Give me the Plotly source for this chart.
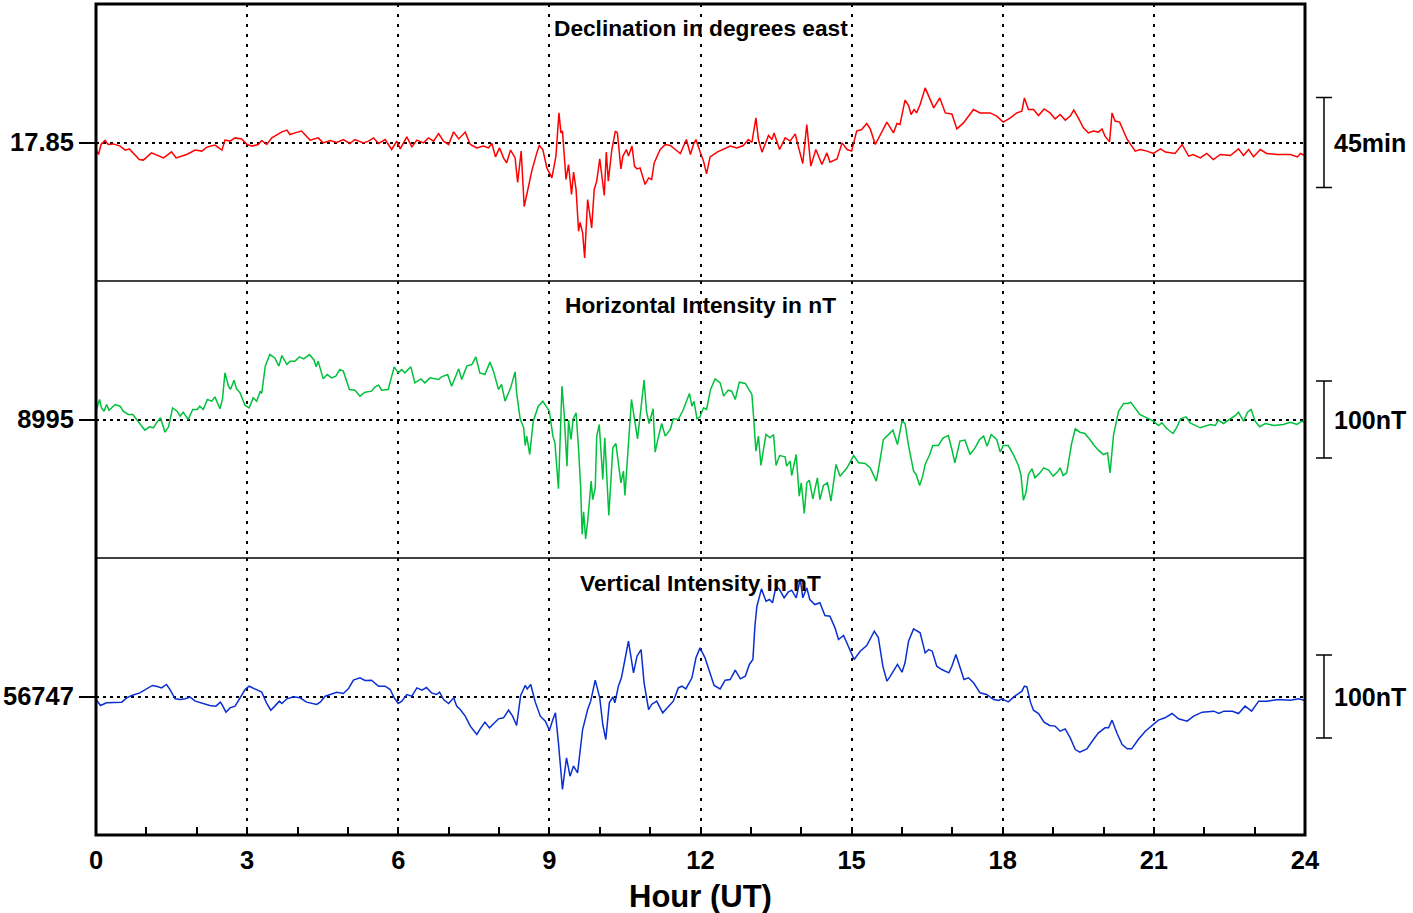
import plotly.graph_objects as go
from plotly.subplots import make_subplots

# Baselines (left-axis labels)
DEC_BASE = 17.85      # degrees east
H_BASE = 8995         # nT
Z_BASE = 56747        # nT

# Declination: (hour UT, offset from baseline in arc-minutes)
dec_points = [
    (0.00, -3.5), (0.05, -6.0), (0.10, -1.0), (0.18, 1.0), (0.24, -1.0), (0.34, -0.7), (0.48, -1.8),
    (0.58, -3.8), (0.66, -3.2), (0.74, -5.2), (0.86, -8.5), (0.94, -8.8), (1.10, -5.2), (1.34, -7.7),
    (1.50, -4.7), (1.59, -7.7), (1.80, -6.0), (1.97, -3.8), (2.10, -4.3), (2.20, -2.3), (2.36, -1.3),
    (2.50, -3.8), (2.56, 1.2), (2.66, 0.7), (2.76, 2.3), (2.89, 1.8), (3.00, -1.0), (3.10, -1.8),
    (3.22, -1.0), (3.29, 1.0), (3.39, -1.0), (3.49, 2.3), (3.59, 4.0), (3.69, 5.3), (3.79, 6.2),
    (3.85, 4.0), (3.95, 4.8), (4.08, 5.7), (4.25, 1.2), (4.41, 2.3), (4.51, -0.2), (4.65, 1.0),
    (4.78, 0.0), (4.91, 1.5), (5.04, -0.5), (5.14, 1.5), (5.31, -0.2), (5.41, 0.7), (5.51, 2.3),
    (5.61, -0.5), (5.74, 1.5), (5.87, -3.5), (5.97, 0.7), (6.04, -3.2), (6.17, 2.8), (6.27, -2.2),
    (6.37, 1.2), (6.50, -0.2), (6.60, 2.3), (6.70, 0.7), (6.80, 4.5), (6.90, 0.7), (7.00, -1.0),
    (7.10, 5.3), (7.20, 1.8), (7.33, 5.2), (7.43, -1.0), (7.56, -2.7), (7.69, -1.8), (7.79, -2.7),
    (7.86, -0.5), (7.93, -7.2), (8.01, -2.7), (8.09, -7.7), (8.15, -10.2), (8.23, -3.8), (8.32, -7.7),
    (8.37, -20.0), (8.44, -4.3), (8.50, -32.0), (8.56, -25.0), (8.65, -14.3), (8.75, -5.2), (8.80, -1.5),
    (8.87, -3.5), (8.95, -12.7), (9.05, -17.7), (9.13, -6.8), (9.19, 14.8), (9.23, 4.8), (9.26, 5.7),
    (9.33, -18.5), (9.38, -11.0), (9.44, -26.0), (9.48, -14.8), (9.53, -23.5), (9.58, -44.3),
    (9.61, -40.0), (9.66, -45.0), (9.70, -57.7), (9.76, -28.5), (9.79, -34.3), (9.84, -42.7),
    (9.89, -23.5), (9.94, -19.3), (10.00, -8.2), (10.04, -17.7), (10.09, -26.5), (10.13, -4.8),
    (10.17, -19.3), (10.24, -3.5), (10.31, 5.7), (10.35, 4.8), (10.42, -13.2), (10.46, -6.8),
    (10.53, -3.5), (10.57, -6.8), (10.64, -1.8), (10.69, -11.8), (10.74, -13.2), (10.80, -12.7),
    (10.90, -21.0), (10.97, -17.7), (11.03, -18.5), (11.08, -10.2), (11.13, -7.7), (11.20, -3.5),
    (11.30, -1.0), (11.40, -1.5), (11.50, -3.5), (11.60, -5.5), (11.72, 1.5), (11.80, -6.0),
    (11.86, -1.0), (11.91, 1.5), (12.00, -5.2), (12.06, -9.3), (12.12, -15.7), (12.19, -7.2),
    (12.33, -4.8), (12.46, -3.2), (12.59, -1.8), (12.72, -2.7), (12.85, -1.5), (12.95, 1.5),
    (13.02, 0.0), (13.10, 12.3), (13.15, 1.5), (13.22, -4.8), (13.28, -1.0), (13.35, 3.5),
    (13.42, 1.5), (13.46, 4.8), (13.57, -3.5), (13.68, 2.3), (13.78, 0.7), (13.88, 4.3), (13.94, -1.8),
    (14.03, -10.5), (14.11, 9.0), (14.19, -11.8), (14.29, -3.5), (14.41, -11.0), (14.51, -5.2),
    (14.57, -9.8), (14.71, -8.2), (14.81, -0.2), (14.91, -3.5), (15.00, -4.3), (15.10, 5.7),
    (15.20, 6.5), (15.30, 9.5), (15.37, 6.8), (15.47, -1.0), (15.54, 2.3), (15.70, 10.2), (15.83, 4.8),
    (15.90, 9.5), (15.96, 9.0), (16.06, 21.2), (16.13, 18.5), (16.18, 14.0), (16.24, 16.5),
    (16.29, 14.8), (16.36, 19.0), (16.46, 27.3), (16.53, 23.2), (16.63, 17.3), (16.75, 22.3),
    (16.86, 14.8), (16.99, 14.3), (17.09, 6.8), (17.22, 9.8), (17.42, 16.5), (17.55, 14.8),
    (17.75, 14.8), (17.88, 13.2), (18.01, 10.2), (18.15, 12.3), (18.28, 14.8), (18.38, 15.7),
    (18.43, 22.3), (18.51, 16.5), (18.61, 16.5), (18.71, 13.5), (18.82, 16.8), (18.94, 14.8),
    (19.04, 11.8), (19.14, 14.0), (19.24, 11.2), (19.34, 13.2), (19.41, 16.2), (19.50, 12.3),
    (19.60, 7.3), (19.70, 4.8), (19.80, 5.7), (19.90, 5.2), (19.97, 6.8), (20.03, 3.2), (20.12, 0.3),
    (20.17, 14.8), (20.23, 10.7), (20.32, 10.2), (20.47, 1.5), (20.63, -4.3), (20.73, -3.5),
    (20.86, -4.3), (20.99, -5.5), (21.13, -3.2), (21.23, -4.8), (21.42, -5.5), (21.56, -1.0),
    (21.69, -6.8), (21.78, -6.0), (21.92, -7.7), (22.05, -5.5), (22.18, -8.5), (22.32, -6.0),
    (22.52, -6.5), (22.68, -3.2), (22.78, -6.5), (22.88, -3.5), (22.98, -7.2), (23.11, -3.5),
    (23.24, -5.5), (23.44, -6.0), (23.71, -6.0), (23.85, -7.2), (23.91, -5.5), (24.00, -6.5),
]

# Horizontal intensity: (hour UT, offset from baseline in nT)
h_points = [
    (0.01, 13.0), (0.07, 26.0), (0.11, 15.0), (0.16, 10.8), (0.21, 19.5), (0.26, 12.0), (0.38, 19.5),
    (0.48, 17.3), (0.54, 10.8), (0.64, 6.5), (0.73, 6.5), (0.82, -1.3), (0.91, -7.8), (0.97, -13.9),
    (1.06, -9.5), (1.14, -10.8), (1.20, -4.3), (1.28, 2.2), (1.37, -16.5), (1.44, -9.5), (1.52, 15.0),
    (1.61, 10.8), (1.67, 4.3), (1.73, 9.5), (1.83, 0.0), (1.92, 13.0), (2.01, 13.0), (2.06, 17.3),
    (2.13, 13.0), (2.21, 26.0), (2.30, 23.8), (2.36, 29.4), (2.46, 13.9), (2.51, 26.0), (2.56, 60.6),
    (2.63, 43.3), (2.67, 39.0), (2.74, 51.0), (2.79, 39.8), (2.86, 34.6), (2.96, 18.2), (3.04, 15.0),
    (3.12, 28.1), (3.19, 23.8), (3.26, 36.8), (3.29, 33.8), (3.36, 69.3), (3.45, 84.4), (3.55, 80.0),
    (3.63, 69.3), (3.69, 83.1), (3.79, 71.4), (3.85, 75.8), (3.95, 75.8), (4.04, 81.4), (4.12, 78.8),
    (4.24, 84.4), (4.33, 77.0), (4.37, 68.4), (4.41, 75.8), (4.51, 52.8), (4.59, 58.4), (4.68, 54.1),
    (4.76, 56.3), (4.84, 64.9), (4.91, 62.8), (5.03, 39.0), (5.14, 38.1), (5.24, 30.3), (5.34, 35.5),
    (5.47, 36.8), (5.54, 42.4), (5.61, 44.6), (5.67, 38.1), (5.80, 39.0), (5.92, 68.4), (6.00, 60.6),
    (6.07, 64.9), (6.13, 60.6), (6.25, 68.4), (6.33, 47.6), (6.45, 52.8), (6.53, 47.6), (6.63, 54.1),
    (6.80, 51.9), (6.86, 55.4), (6.98, 58.4), (7.06, 43.3), (7.20, 65.8), (7.26, 51.9), (7.36, 69.3),
    (7.46, 71.4), (7.54, 81.4), (7.62, 60.6), (7.72, 58.4), (7.82, 74.5), (7.89, 62.8), (7.99, 39.0),
    (8.05, 45.5), (8.12, 23.8), (8.23, 41.1), (8.32, 61.9), (8.35, 34.6), (8.42, 0.9), (8.49, -10.8),
    (8.52, -33.8), (8.55, -21.6), (8.61, -45.5), (8.68, -2.2), (8.78, 17.3), (8.87, 23.8), (8.95, 15.2),
    (9.00, 10.8), (9.07, -21.6), (9.11, -30.3), (9.18, -90.0), (9.25, 43.3), (9.29, 10.8), (9.35, -60.6),
    (9.38, -0.9), (9.43, -26.0), (9.47, 0.0), (9.53, 8.7), (9.58, -39.0), (9.62, -86.6), (9.65, -149.0),
    (9.68, -120.0), (9.72, -155.0), (9.76, -132.0), (9.83, -80.0), (9.86, -104.0), (9.91, -88.7),
    (9.94, -21.6), (9.99, -6.5), (10.06, -78.0), (10.10, -23.8), (10.18, -124.7), (10.26, -36.8),
    (10.32, -31.2), (10.42, -82.3), (10.47, -67.1), (10.50, -98.7), (10.63, 26.0), (10.68, 4.3),
    (10.75, -25.1), (10.83, 21.6), (10.88, 51.1), (10.93, 9.5), (10.98, -5.2), (11.06, 13.9),
    (11.10, -42.4), (11.16, -23.8), (11.23, -5.2), (11.30, -21.6), (11.40, -13.0), (11.46, 0.9),
    (11.56, 0.0), (11.66, 13.0), (11.71, 22.5), (11.78, 33.8), (11.83, 17.3), (11.87, 23.8),
    (11.93, 0.9), (11.99, 3.5), (12.06, 15.2), (12.12, 13.0), (12.20, 39.0), (12.29, 52.8),
    (12.39, 47.6), (12.46, 30.3), (12.55, 38.1), (12.62, 36.8), (12.69, 26.0), (12.77, 48.5),
    (12.89, 46.8), (12.97, 36.8), (13.02, 32.5), (13.06, -2.2), (13.10, -41.1), (13.15, -21.6),
    (13.20, -59.7), (13.25, -39.0), (13.30, -19.5), (13.38, -23.8), (13.45, -19.5), (13.50, -59.7),
    (13.57, -46.8), (13.68, -48.5), (13.71, -60.6), (13.78, -54.1), (13.81, -72.7), (13.90, -45.5),
    (13.96, -99.6), (14.00, -82.3), (14.06, -122.0), (14.11, -82.3), (14.16, -78.8), (14.23, -103.0),
    (14.32, -75.8), (14.37, -104.0), (14.44, -85.7), (14.52, -82.3), (14.59, -106.0), (14.69, -58.4),
    (14.77, -73.6), (14.91, -62.8), (15.04, -46.8), (15.14, -56.3), (15.27, -57.1), (15.37, -62.8),
    (15.49, -80.0), (15.55, -58.4), (15.63, -26.0), (15.70, -21.6), (15.76, -17.3), (15.82, -13.9),
    (15.91, -32.5), (16.00, -2.2), (16.06, -5.2), (16.13, -33.8), (16.23, -67.1), (16.28, -71.4),
    (16.35, -85.7), (16.41, -73.6), (16.46, -58.4), (16.55, -45.5), (16.61, -33.8), (16.72, -33.8),
    (16.82, -23.8), (16.92, -20.8), (16.99, -39.0), (17.05, -56.3), (17.15, -28.1), (17.25, -26.8),
    (17.35, -45.5), (17.45, -36.8), (17.54, -26.0), (17.62, -21.6), (17.69, -34.6), (17.77, -19.5),
    (17.88, -26.0), (17.95, -42.4), (18.01, -33.8), (18.11, -33.8), (18.21, -45.5), (18.31, -59.7),
    (18.36, -71.4), (18.41, -104.8), (18.46, -95.2), (18.51, -71.4), (18.58, -64.1), (18.64, -75.8),
    (18.74, -69.3), (18.81, -62.8), (18.91, -65.8), (19.00, -73.6), (19.07, -69.3), (19.14, -62.8),
    (19.20, -72.7), (19.27, -69.3), (19.37, -30.3), (19.44, -12.1), (19.53, -16.5), (19.63, -18.2),
    (19.73, -26.0), (19.80, -32.5), (19.90, -39.8), (20.00, -45.5), (20.08, -43.3), (20.13, -69.3),
    (20.20, -19.5), (20.30, 10.8), (20.40, 20.8), (20.49, 20.8), (20.54, 22.5), (20.62, 15.2),
    (20.72, 6.5), (20.86, 2.2), (20.99, -2.2), (21.09, -7.8), (21.16, -4.3), (21.26, -12.1),
    (21.38, -18.2), (21.46, -9.5), (21.53, 0.9), (21.64, 3.5), (21.72, -4.3), (21.92, -10.8),
    (22.12, -6.5), (22.22, -7.8), (22.28, -0.9), (22.38, -5.2), (22.52, 0.9), (22.62, 5.2), (22.68, 9.5),
    (22.78, -2.2), (22.86, 9.5), (22.93, 13.0), (23.01, -2.2), (23.10, -9.5), (23.21, -5.2),
    (23.38, -7.8), (23.57, -6.5), (23.71, -3.5), (23.84, -6.5), (23.94, -2.2), (24.00, -4.3),
]

# Vertical intensity: (hour UT, offset from baseline in nT)
z_points = [
    (0.00, -3.6), (0.09, -10.8), (0.21, -7.6), (0.38, -7.6), (0.51, -6.8), (0.61, -1.6), (0.71, 1.2),
    (0.87, 4.4), (1.01, 9.2), (1.12, 13.3), (1.20, 12.4), (1.30, 10.4), (1.40, 14.5), (1.47, 8.4),
    (1.57, -2.8), (1.67, -3.6), (1.77, -2.8), (1.87, -0.8), (1.97, -5.6), (2.13, -8.4), (2.26, -10.8),
    (2.38, -11.6), (2.47, -6.8), (2.51, -10.8), (2.58, -18.9), (2.66, -13.7), (2.76, -11.6),
    (2.86, -1.6), (2.96, 8.4), (3.04, 12.4), (3.16, 9.2), (3.29, 5.2), (3.39, -8.4), (3.47, -16.5),
    (3.55, -11.6), (3.64, -5.6), (3.69, -8.4), (3.79, -2.8), (3.92, -0.4), (4.05, -1.6), (4.18, -6.8),
    (4.28, -8.4), (4.38, -9.6), (4.45, -6.8), (4.55, 0.4), (4.65, 2.4), (4.78, 5.2), (4.91, 3.6),
    (5.01, 9.2), (5.11, 19.7), (5.24, 22.5), (5.34, 19.3), (5.47, 19.7), (5.61, 12.4), (5.74, 12.4),
    (5.84, 8.4), (5.92, -1.6), (6.00, -8.4), (6.07, -5.6), (6.17, 2.4), (6.27, 0.4), (6.37, 10.4),
    (6.47, 7.6), (6.56, 10.8), (6.66, 4.4), (6.76, 2.4), (6.82, 5.2), (6.90, -3.6), (7.00, -8.4),
    (7.10, -1.6), (7.16, -11.6), (7.23, -15.7), (7.33, -23.7), (7.43, -35.7), (7.56, -45.8),
    (7.64, -37.8), (7.72, -30.9), (7.81, -37.8), (7.90, -31.7), (7.99, -26.9), (8.09, -25.7),
    (8.19, -16.5), (8.27, -23.7), (8.35, -34.9), (8.43, 1.2), (8.52, 13.3), (8.56, 9.2), (8.63, 14.5),
    (8.72, -6.8), (8.82, -23.7), (8.92, -29.7), (9.00, -40.6), (9.07, -27.7), (9.12, -19.7),
    (9.18, -55.8), (9.26, -112.0), (9.34, -73.9), (9.41, -96.0), (9.48, -83.9), (9.56, -92.0),
    (9.66, -39.8), (9.76, -15.7), (9.82, -5.6), (9.91, 19.7), (10.00, -1.6), (10.06, -33.7),
    (10.12, -51.8), (10.19, -7.6), (10.26, -0.4), (10.30, -7.6), (10.37, 12.4), (10.43, 22.5),
    (10.50, 44.6), (10.57, 66.7), (10.67, 28.5), (10.74, 48.6), (10.82, 56.6), (10.88, 16.5),
    (10.97, -15.7), (11.03, -9.6), (11.13, -5.6), (11.25, -19.7), (11.36, -12.4), (11.46, -5.6),
    (11.56, 10.4), (11.63, 12.4), (11.71, 9.2), (11.83, 22.5), (11.91, 46.6), (11.99, 58.6),
    (12.09, 46.6), (12.19, 28.5), (12.27, 13.3), (12.39, 9.2), (12.49, 19.7), (12.59, 20.5),
    (12.69, 31.7), (12.79, 21.3), (12.89, 24.5), (12.97, 38.6), (13.04, 44.6), (13.08, 84.7),
    (13.12, 108.8), (13.21, 129.7), (13.30, 114.9), (13.37, 116.9), (13.43, 112.9), (13.50, 132.9),
    (13.57, 128.9), (13.66, 118.9), (13.74, 125.7), (13.81, 128.1), (13.90, 118.9), (13.98, 141.8),
    (14.03, 118.9), (14.11, 130.9), (14.17, 116.9), (14.27, 110.8), (14.37, 112.9), (14.47, 97.6),
    (14.57, 96.8), (14.67, 82.7), (14.74, 68.7), (14.84, 73.5), (14.94, 60.6), (15.05, 44.6),
    (15.17, 54.6), (15.30, 61.4), (15.45, 78.7), (15.53, 71.1), (15.62, 36.5), (15.70, 18.5),
    (15.76, 23.7), (15.84, 32.5), (15.91, 38.6), (16.00, 29.3), (16.06, 40.6), (16.13, 66.7),
    (16.23, 81.5), (16.36, 76.7), (16.46, 52.6), (16.53, 56.6), (16.60, 54.6), (16.69, 36.5),
    (16.79, 32.5), (16.93, 28.5), (16.99, 36.5), (17.07, 50.6), (17.16, 32.5), (17.23, 20.5),
    (17.32, 22.5), (17.42, 16.5), (17.55, 4.4), (17.68, 2.4), (17.82, -3.6), (17.92, -4.8),
    (17.98, -2.8), (18.11, -6.4), (18.22, -0.4), (18.32, 3.6), (18.38, 6.4), (18.43, 12.4),
    (18.48, 11.6), (18.55, -6.8), (18.61, -16.5), (18.71, -20.5), (18.82, -30.9), (18.93, -34.9),
    (19.04, -35.7), (19.14, -41.8), (19.24, -39.0), (19.34, -49.8), (19.44, -63.9), (19.53, -67.1),
    (19.67, -63.1), (19.80, -51.8), (19.90, -43.8), (20.03, -37.8), (20.10, -37.8), (20.17, -28.5),
    (20.27, -44.6), (20.37, -57.8), (20.47, -63.1), (20.56, -63.1), (20.69, -51.8), (20.83, -41.8),
    (20.96, -34.9), (21.09, -28.5), (21.22, -25.7), (21.36, -20.5), (21.49, -26.9), (21.66, -29.7),
    (21.79, -23.7), (21.96, -18.9), (22.19, -17.7), (22.29, -20.5), (22.39, -17.7), (22.56, -17.7),
    (22.68, -20.5), (22.81, -11.6), (22.94, -17.7), (23.08, -5.6), (23.24, -5.6), (23.47, -3.6),
    (23.71, -4.4), (23.87, -2.8), (24.00, -4.8),
]

hour_ticks = [0, 3, 6, 9, 12, 15, 18, 21, 24]
hour_labels = ["0", "3", "6", "9", "12", "15", "18", "21", "24"]
panel_titles = ["Declination in degrees east", "Horizontal Intensity in nT", "Vertical Intensity in nT"]
base_labels = ["17.85", "8995", "56747"]
scale_labels = ["45min", "100nT", "100nT"]

# panel half-spans (in axis units) and scale-bar half-lengths
dec_half_span = 1.1542       # degrees
h_half_span = 179.9          # nT
z_half_span = 166.9          # nT
dec_bar_half = 0.375         # 22.5 arc-minutes
h_bar_half = 50              # nT
z_bar_half = 50              # nT

FONT = "Liberation Sans, Arial, sans-serif"

dec_x = [p[0] for p in dec_points]
dec_y = [DEC_BASE + p[1] / 60.0 for p in dec_points]
h_x = [p[0] for p in h_points]
h_y = [H_BASE + p[1] for p in h_points]
z_x = [p[0] for p in z_points]
z_y = [Z_BASE + p[1] for p in z_points]

fig = make_subplots(rows=3, cols=1, shared_xaxes=True, vertical_spacing=0)

series = [
    (dec_x, dec_y, "#ff0000", DEC_BASE, dec_half_span, dec_bar_half),
    (h_x, h_y, "#00c03c", H_BASE, h_half_span, h_bar_half),
    (z_x, z_y, "#0a2fd0", Z_BASE, z_half_span, z_bar_half),
]

for i, (xs, ys, col, base, half, barh) in enumerate(series):
    row = i + 1
    fig.add_trace(go.Scatter(x=xs, y=ys, mode="lines", line=dict(color=col, width=1.5),
                             showlegend=False, hoverinfo="skip"), row=row, col=1)
    fig.update_yaxes(range=[base - half, base + half], tickvals=[base], ticktext=[base_labels[i]],
                     ticks="outside", ticklen=16, tickwidth=2, tickcolor="black",
                     showgrid=True, gridcolor="black", gridwidth=2, griddash="3px,4px",
                     zeroline=False, showline=False,
                     tickfont=dict(family=FONT, size=25.5, color="black", weight="bold"),
                     row=row, col=1)

fig.update_xaxes(range=[0, 24], tickvals=hour_ticks, ticktext=hour_labels,
                 showgrid=True, gridcolor="black", gridwidth=2, griddash="3px,7px",
                 zeroline=False, showline=False)
fig.update_xaxes(ticks="inside", ticklen=8, tickwidth=2, tickcolor="black",
                 tickfont=dict(family=FONT, size=25.5, color="black", weight="bold"),
                 ticklabelstandoff=7,
                 minor=dict(tickvals=list(range(25)), ticks="inside", ticklen=8, tickwidth=2,
                            tickcolor="black", showgrid=False),
                 row=3, col=1)

shapes = [
    dict(type="rect", xref="paper", yref="paper", x0=0, x1=1, y0=0, y1=1,
         line=dict(color="black", width=3), layer="above"),
    dict(type="line", xref="paper", yref="paper", x0=0, x1=1, y0=1 / 3, y1=1 / 3,
         line=dict(color="black", width=1.5), layer="above"),
    dict(type="line", xref="paper", yref="paper", x0=0, x1=1, y0=2 / 3, y1=2 / 3,
         line=dict(color="black", width=1.5), layer="above"),
]

annotations = []
yrefs = ["y", "y2", "y3"]
bar_x = 1.0157
cap_l, cap_r = 1.0091, 1.0223
for i, (xs, ys, col, base, half, barh) in enumerate(series):
    yr = yrefs[i]
    shapes.append(dict(type="line", xref="paper", yref=yr, x0=bar_x, x1=bar_x,
                       y0=base - barh, y1=base + barh, line=dict(color="black", width=1.5)))
    for yy in (base - barh, base + barh):
        shapes.append(dict(type="line", xref="paper", yref=yr, x0=cap_l, x1=cap_r,
                           y0=yy, y1=yy, line=dict(color="black", width=1.5)))
    annotations.append(dict(xref="paper", yref=yr, x=1.0225, y=base, xanchor="left",
                            yanchor="middle", showarrow=False, text=scale_labels[i],
                            font=dict(family=FONT, size=25, color="black", weight="bold")))

title_y = [0.9711, 0.6378, 0.3032]
for i, t in enumerate(panel_titles):
    annotations.append(dict(xref="paper", yref="paper", x=0.5, y=title_y[i], xanchor="center",
                            yanchor="middle", showarrow=False, text=t,
                            font=dict(family=FONT, size=22.7, color="black", weight="bold")))

annotations.append(dict(xref="paper", yref="paper", x=0.5, y=-0.0746, xanchor="center",
                        yanchor="middle", showarrow=False, text="Hour (UT)",
                        font=dict(family=FONT, size=31, color="black", weight="bold")))

fig.update_layout(
    width=1413, height=913,
    margin=dict(l=96, r=108, t=4, b=78),
    paper_bgcolor="white", plot_bgcolor="white",
    shapes=shapes, annotations=annotations,
    font=dict(family=FONT, color="black"),
    showlegend=False,
)

fig.write_html("out.html",
               config={"displayModeBar": False},
               post_script="document.body.style.margin='0';document.body.style.padding='0';"
                           "document.body.style.overflow='hidden';")
